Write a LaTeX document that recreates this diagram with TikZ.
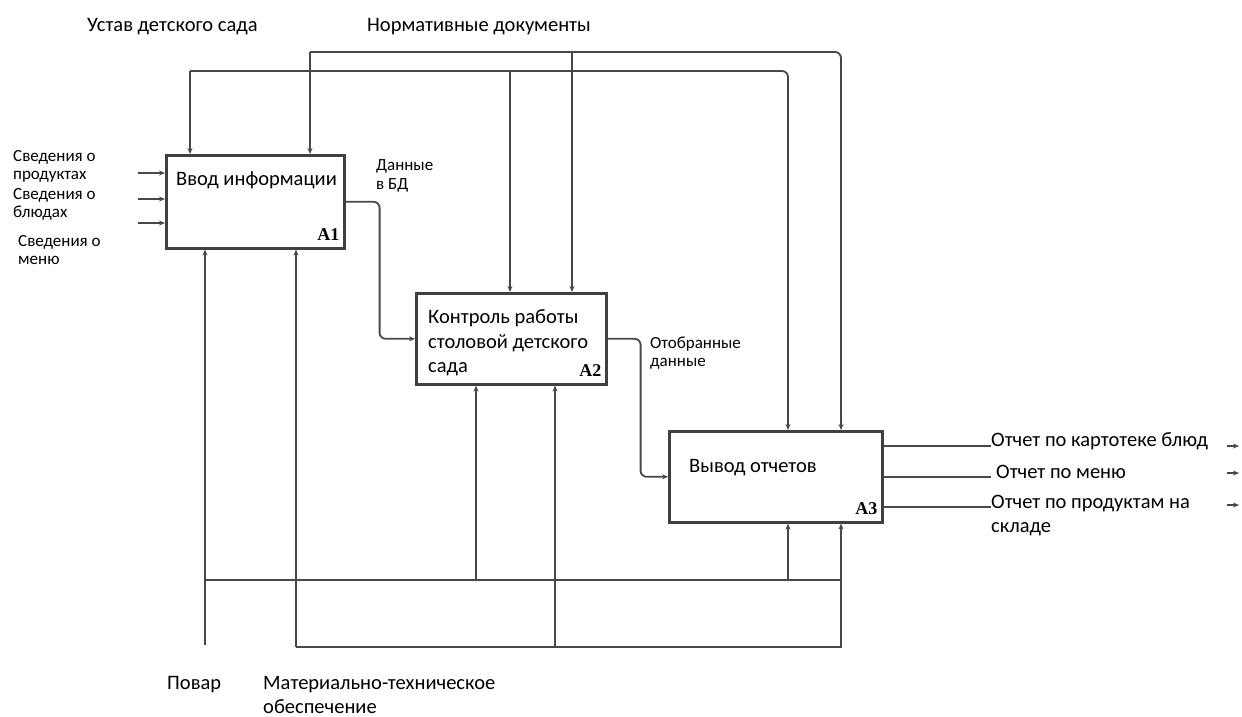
\documentclass[tikz,border=0pt]{standalone}
\usepackage{fontspec}
\setmainfont{Carlito}
\newfontfamily\numfont{Liberation Serif}
\usetikzlibrary{arrows.meta, positioning, calc}
\definecolor{LineCol}{RGB}{72,72,72}
\definecolor{BoxLine}{RGB}{64,64,64}
\tikzset{
  % IDEF0 function block (width, height)
  fnbox/.style 2 args={
    rectangle, draw=BoxLine, fill=white, line width=2.6pt,
    inner sep=0pt, minimum width=#1, minimum height=#2, anchor=north west
  },
  boxtxt/.style={anchor=west, align=left, font=\fontsize{20.5}{24.5}\selectfont, inner sep=0pt},
  lbl/.style   ={anchor=west, align=left, font=\fontsize{20.5}{24}\selectfont, inner sep=0pt},
  small/.style ={anchor=west, align=left, font=\fontsize{17}{18.5}\selectfont, inner sep=0pt},
  boxnum/.style={anchor=south east, font=\numfont\bfseries\fontsize{18}{18}\selectfont, inner sep=0pt},
  ln/.style ={draw=LineCol, line width=1.8pt, rounded corners=6pt},
  arr/.style={ln, -{Stealth[length=6pt, width=5pt]}}
}

\begin{document}
\begin{tikzpicture}[x=1pt, y=-1pt]

  \fill[white] (0,0) rectangle (1242,717);
  \useasboundingbox (0,0) rectangle (1242,717);

  %% ── Function blocks ───────────────────────────────────────────────────────
  \node[fnbox={178pt}{93pt}] (a1) at (165,154) {};
  \node[fnbox={190pt}{91pt}] (a2) at (415,292) {};
  \node[fnbox={213pt}{91pt}] (a3) at (668,430) {};

  \node[boxtxt] (a1t) at (176,180) {Ввод информации};
  \node[boxtxt] (a2t) at (428,343) {Контроль работы\\столовой детского\\сада};
  \node[boxtxt] (a3t) at (689,468) {Вывод отчетов};

  \node[boxnum] (a1n) at ([xshift=-6pt, yshift=9pt]a1.south east) {A1};
  \node[boxnum] (a2n) at ([xshift=-6pt, yshift=9pt]a2.south east) {A2};
  \node[boxnum] (a3n) at ([xshift=-6pt, yshift=9pt]a3.south east) {A3};

  % arrow entry points on the block edges
  \coordinate (a1c1) at ([xshift=25pt]a1.north west);
  \coordinate (a1c2) at ([xshift=145pt]a1.north west);
  \coordinate (a2c1) at ([xshift=95pt]a2.north west);
  \coordinate (a2c2) at ([xshift=157pt]a2.north west);
  \coordinate (a3c1) at ([xshift=120pt]a3.north west);
  \coordinate (a3c2) at ([xshift=173pt]a3.north west);
  \coordinate (a1m1) at ([xshift=40pt]a1.south west);
  \coordinate (a1m2) at ([xshift=131pt]a1.south west);
  \coordinate (a2m1) at ([xshift=61pt]a2.south west);
  \coordinate (a2m2) at ([xshift=140pt]a2.south west);
  \coordinate (a3m1) at ([xshift=120pt]a3.south west);
  \coordinate (a3m2) at ([xshift=173pt]a3.south west);

  %% ── Controls (top) ────────────────────────────────────────────────────────
  \node[lbl] (ustavl) at (87,27) {Устав детского сада};
  \node[lbl] (norml) at (367,27) {Нормативные документы};

  \coordinate (ustav) at (190,71);
  \coordinate (norm) at (310,52);

  \draw[arr] (ustav) -| (a3c1);
  \draw[arr] (ustav) -- (a1c1);
  \draw[arr] (ustav -| a2c1) -- (a2c1);

  \draw[arr] (norm) -| (a3c2);
  \draw[arr] (norm) -- (a1c2);
  \draw[arr] (norm -| a2c2) -- (a2c2);

  %% ── Inputs (left) ─────────────────────────────────────────────────────────
  \node[small] (in1) at (13,166.5) {Сведения о\\продуктах};
  \node[small] (in2) at (13,204.5) {Сведения о\\блюдах};
  \node[small] (in3) at (18,250) {Сведения о\\меню};

  \coordinate (i1) at (138,173);
  \coordinate (i2) at (138,199);
  \coordinate (i3) at (138,223);
  \foreach \i in {i1,i2,i3}
    \draw[arr] (\i) -- (\i -| a1.west);

  %% ── Flows between blocks ──────────────────────────────────────────────────
  \node[small] (dbl) at (376,176) {Данные\\в БД};
  \node[small] (sell) at (650,353) {Отобранные\\данные};

  \draw[arr] (a1.east) -- ++(34,0) |- (a2.west);
  \draw[arr] (a2.east) -- ++(33,0) |- (a3.west);

  %% ── Outputs (right) ───────────────────────────────────────────────────────
  \node[lbl] (o1) at (991,441) {Отчет по картотеке блюд};
  \node[lbl] (o2) at (996,472) {Отчет по меню};
  \node[lbl] (o3) at (991,515.5) {Отчет по продуктам на\\складе};

  \coordinate (a3o1) at ([yshift=30.5pt]a3.east);
  \coordinate (a3o2) at (a3.east);
  \coordinate (a3o3) at ([yshift=-30.5pt]a3.east);
  \draw[ln] (a3o1) -- (a3o1 -| o1.west);
  \draw[ln] (a3o2) -- ([xshift=-5pt]a3o2 -| o2.west);
  \draw[ln] (a3o3) -- (a3o3 -| o3.west);

  \coordinate (t1) at (1227,446);
  \coordinate (t2) at (1227,473);
  \coordinate (t3) at (1227,505);
  \foreach \t in {t1,t2,t3}
    \draw[arr] (\t) -- ++(12,0);

  %% ── Mechanisms (bottom) ───────────────────────────────────────────────────
  \node[lbl] (mtol) at (263,694.5) {Материально-техническое\\обеспечение};
  \node[lbl, anchor=north west, xshift=-96pt] (povarl) at (mtol.north west) {Повар};

  \coordinate (povar) at (205,645);
  \coordinate (povarbus) at (205,580);
  \coordinate (mto) at (296,647);

  \draw[arr] (povar) -- (a1m1);
  \draw[ln] (povarbus) -- (povarbus -| a3m2);
  \draw[arr] (povarbus -| a2m1) -- (a2m1);
  \draw[arr] (povarbus -| a3m1) -- (a3m1);

  \draw[arr, sharp corners] (mto) -| (a3m2);
  \draw[arr] (mto) -- (a1m2);
  \draw[arr] (mto -| a2m2) -- (a2m2);

\end{tikzpicture}
\end{document}
